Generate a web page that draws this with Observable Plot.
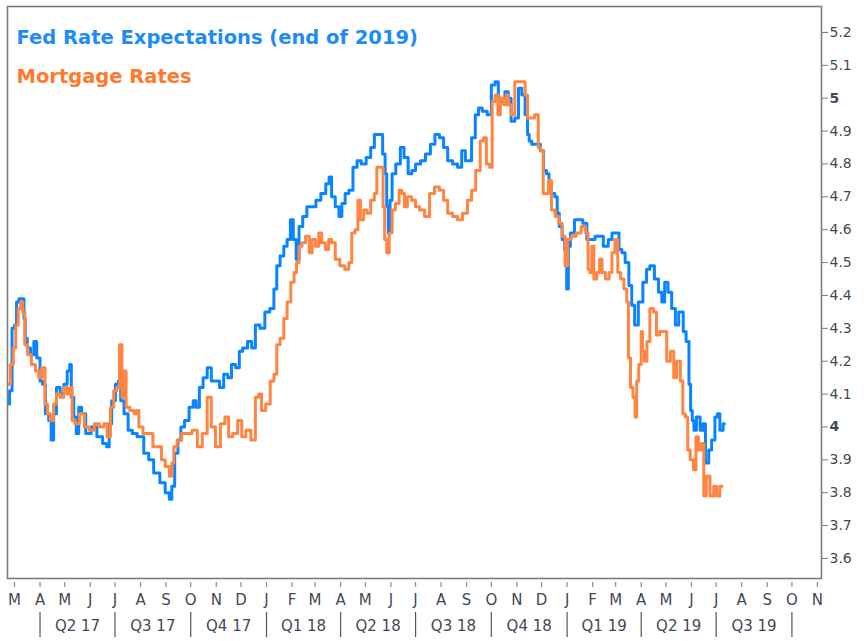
<!DOCTYPE html>
<html><head><meta charset="utf-8">
<script src="https://cdn.jsdelivr.net/npm/d3@7"></script>
<script src="https://cdn.jsdelivr.net/npm/@observablehq/plot@0.6"></script>
<style>body{margin:0;background:#fff} svg{display:block}</style>
</head><body><div id="chart"></div>
<script>
const seriesNames = ["Fed Rate Expectations (end of 2019)", "Mortgage Rates"];
const seriesColors = ["#0a84ff", "#ff8543"];
const legendColors = ["#1e8cf7", "#ff7a2b"];

const fedExpectations = [
["2017-02-22",4.07],["2017-02-24",4.11],["2017-02-28",4.30],["2017-03-02",4.31],["2017-03-05",4.38],["2017-03-08",4.39],["2017-03-12",4.39],["2017-03-13",4.33],["2017-03-15",4.27],["2017-03-18",4.24],["2017-03-23",4.22],["2017-03-26",4.26],["2017-03-30",4.21],
["2017-04-03",4.14],["2017-04-05",4.13],["2017-04-10",4.04],["2017-04-13",4.02],["2017-04-16",3.96],["2017-04-19",4.04],["2017-04-23",4.12],["2017-04-28",4.10],
["2017-05-02",4.13],["2017-05-06",4.17],["2017-05-08",4.19],["2017-05-10",4.09],["2017-05-14",4.03],["2017-05-16",3.98],["2017-05-20",4.06],["2017-05-23",4.04],["2017-05-30",3.98],
["2017-06-05",4.00],["2017-06-13",3.97],["2017-06-19",3.95],["2017-06-23",3.94],["2017-06-25",4.01],["2017-06-29",4.08],
["2017-07-04",4.13],["2017-07-06",4.14],["2017-07-10",4.08],["2017-07-14",4.04],["2017-07-20",3.99],["2017-07-24",3.98],
["2017-08-01",3.97],["2017-08-09",3.92],["2017-08-13",3.90],["2017-08-21",3.86],["2017-08-28",3.83],
["2017-09-03",3.80],["2017-09-07",3.78],["2017-09-09",3.82],["2017-09-14",3.92],["2017-09-17",3.96],["2017-09-21",4.00],["2017-09-26",4.02],
["2017-10-02",4.06],["2017-10-06",4.08],["2017-10-09",4.06],["2017-10-14",4.12],["2017-10-18",4.15],["2017-10-24",4.18],["2017-10-28",4.14],
["2017-11-02",4.14],["2017-11-08",4.12],["2017-11-12",4.16],["2017-11-18",4.15],["2017-11-21",4.19],["2017-11-28",4.18],["2017-11-30",4.23],
["2017-12-06",4.24],["2017-12-12",4.26],["2017-12-16",4.24],["2017-12-21",4.31],["2017-12-27",4.30],
["2018-01-02",4.35],["2018-01-08",4.36],["2018-01-12",4.42],["2018-01-15",4.49],["2018-01-20",4.52],["2018-01-24",4.55],["2018-01-28",4.57],
["2018-02-01",4.63],["2018-02-04",4.57],["2018-02-08",4.51],["2018-02-11",4.61],["2018-02-17",4.64],["2018-02-21",4.67],["2018-02-27",4.67],
["2018-03-05",4.69],["2018-03-11",4.71],["2018-03-17",4.74],["2018-03-19",4.76],["2018-03-23",4.70],["2018-03-28",4.67],
["2018-04-01",4.64],["2018-04-04",4.68],["2018-04-09",4.71],["2018-04-13",4.72],["2018-04-19",4.79],["2018-04-23",4.81],["2018-04-29",4.80],
["2018-05-05",4.82],["2018-05-10",4.85],["2018-05-14",4.89],["2018-05-20",4.89],["2018-05-24",4.83],["2018-05-26",4.77],["2018-05-28",4.67],["2018-05-30",4.59],
["2018-06-01",4.69],["2018-06-04",4.77],["2018-06-10",4.80],["2018-06-15",4.85],["2018-06-19",4.82],["2018-06-25",4.77],["2018-06-28",4.78],
["2018-07-04",4.80],["2018-07-10",4.81],["2018-07-16",4.83],["2018-07-22",4.86],["2018-07-27",4.89],
["2018-08-02",4.88],["2018-08-06",4.85],["2018-08-12",4.81],["2018-08-18",4.80],["2018-08-24",4.79],["2018-08-28",4.84],
["2018-09-02",4.81],["2018-09-05",4.81],["2018-09-09",4.88],["2018-09-14",4.95],["2018-09-17",4.97],["2018-09-23",4.96],["2018-09-29",4.95],
["2018-10-03",5.04],["2018-10-08",5.05],["2018-10-11",5.00],["2018-10-15",4.99],["2018-10-20",5.02],["2018-10-23",5.00],["2018-10-27",4.93],
["2018-11-01",4.94],["2018-11-05",5.03],["2018-11-09",5.01],["2018-11-13",4.95],["2018-11-15",4.89],["2018-11-17",4.87],["2018-11-21",4.86],["2018-11-27",4.86],
["2018-12-02",4.84],["2018-12-05",4.78],["2018-12-09",4.77],["2018-12-11",4.73],["2018-12-15",4.71],["2018-12-19",4.70],["2018-12-21",4.65],["2018-12-24",4.61],["2018-12-28",4.57],["2018-12-30",4.54],
["2019-01-02",4.42],["2019-01-03",4.55],["2019-01-07",4.59],["2019-01-13",4.63],["2019-01-17",4.63],["2019-01-23",4.62],["2019-01-27",4.57],
["2019-02-01",4.57],["2019-02-07",4.58],["2019-02-11",4.58],["2019-02-17",4.55],["2019-02-23",4.57],["2019-02-26",4.59],
["2019-03-03",4.59],["2019-03-07",4.54],["2019-03-10",4.53],["2019-03-15",4.50],["2019-03-19",4.43],["2019-03-22",4.37],["2019-03-26",4.31],["2019-03-31",4.38],
["2019-04-06",4.44],["2019-04-09",4.48],["2019-04-14",4.49],["2019-04-20",4.45],["2019-04-24",4.41],["2019-04-28",4.38],
["2019-05-01",4.44],["2019-05-06",4.41],["2019-05-10",4.36],["2019-05-15",4.31],["2019-05-18",4.35],["2019-05-21",4.35],["2019-05-23",4.29],["2019-05-28",4.26],["2019-05-30",4.13],
["2019-06-01",4.05],["2019-06-03",4.02],["2019-06-05",3.99],["2019-06-09",4.03],["2019-06-14",3.99],["2019-06-16",4.01],["2019-06-20",3.89],["2019-06-24",3.93],["2019-06-27",3.96],
["2019-07-02",4.03],["2019-07-03",4.04],["2019-07-08",3.99],["2019-07-11",4.01]
];

const mortgageRates = [
["2017-02-22",4.13],["2017-02-26",4.19],["2017-03-01",4.24],["2017-03-04",4.31],["2017-03-07",4.36],["2017-03-10",4.38],["2017-03-12",4.35],["2017-03-15",4.25],["2017-03-19",4.22],["2017-03-24",4.19],["2017-03-29",4.17],
["2017-04-01",4.15],["2017-04-05",4.18],["2017-04-09",4.07],["2017-04-11",4.04],["2017-04-16",4.02],["2017-04-19",4.07],["2017-04-23",4.10],["2017-04-28",4.09],
["2017-05-02",4.12],["2017-05-06",4.10],["2017-05-09",4.12],["2017-05-11",4.02],["2017-05-16",4.01],["2017-05-22",4.04],["2017-05-28",4.00],
["2017-06-03",3.99],["2017-06-09",4.01],["2017-06-15",4.00],["2017-06-20",4.01],["2017-06-23",3.97],["2017-06-28",4.06],
["2017-07-01",4.11],["2017-07-05",4.12],["2017-07-08",4.25],["2017-07-11",4.09],["2017-07-13",4.17],["2017-07-16",4.06],["2017-07-22",4.05],["2017-07-26",4.04],["2017-07-28",4.05],
["2017-08-01",4.00],["2017-08-07",3.98],["2017-08-13",3.98],["2017-08-19",3.94],["2017-08-25",3.94],["2017-08-28",3.90],
["2017-09-03",3.88],["2017-09-07",3.85],["2017-09-09",3.89],["2017-09-12",3.94],["2017-09-17",3.96],["2017-09-23",3.98],["2017-09-29",3.98],
["2017-10-06",3.99],["2017-10-12",3.94],["2017-10-18",3.98],["2017-10-24",4.09],["2017-10-28",4.00],
["2017-11-03",3.94],["2017-11-09",4.01],["2017-11-14",4.03],["2017-11-18",3.97],["2017-11-24",3.98],["2017-11-30",4.02],
["2017-12-04",3.97],["2017-12-10",3.99],["2017-12-16",3.96],["2017-12-21",4.09],["2017-12-24",4.10],["2017-12-28",4.05],
["2018-01-03",4.07],["2018-01-08",4.14],["2018-01-12",4.16],["2018-01-15",4.25],["2018-01-20",4.27],["2018-01-24",4.33],["2018-01-28",4.38],
["2018-02-02",4.44],["2018-02-05",4.47],["2018-02-08",4.50],["2018-02-11",4.55],["2018-02-15",4.56],["2018-02-20",4.58],["2018-02-24",4.53],["2018-02-27",4.57],
["2018-03-04",4.55],["2018-03-07",4.59],["2018-03-11",4.56],["2018-03-16",4.54],["2018-03-19",4.57],["2018-03-23",4.56],["2018-03-28",4.51],
["2018-04-03",4.49],["2018-04-09",4.48],["2018-04-13",4.50],["2018-04-16",4.59],["2018-04-21",4.60],["2018-04-23",4.69],["2018-04-27",4.63],
["2018-05-01",4.66],["2018-05-05",4.65],["2018-05-10",4.69],["2018-05-14",4.71],["2018-05-16",4.79],["2018-05-22",4.79],["2018-05-23",4.67],["2018-05-26",4.57],["2018-05-28",4.53],
["2018-06-01",4.59],["2018-06-04",4.66],["2018-06-09",4.68],["2018-06-13",4.72],["2018-06-16",4.71],["2018-06-19",4.67],["2018-06-23",4.70],["2018-06-29",4.69],
["2018-07-03",4.67],["2018-07-09",4.66],["2018-07-15",4.64],["2018-07-21",4.71],["2018-07-27",4.73],
["2018-08-02",4.72],["2018-08-06",4.69],["2018-08-12",4.65],["2018-08-18",4.64],["2018-08-24",4.63],["2018-08-30",4.65],
["2018-09-05",4.69],["2018-09-09",4.72],["2018-09-15",4.78],["2018-09-20",4.87],["2018-09-23",4.88],["2018-09-27",4.80],
["2018-10-01",4.79],["2018-10-03",4.99],["2018-10-08",5.01],["2018-10-10",4.95],["2018-10-14",5.00],["2018-10-18",4.98],["2018-10-20",5.01],["2018-10-23",4.98],["2018-10-27",4.95],
["2018-11-01",5.05],["2018-11-09",5.05],["2018-11-13",5.01],["2018-11-15",4.94],["2018-11-19",4.94],["2018-11-26",4.95],["2018-11-28",4.85],
["2018-12-02",4.84],["2018-12-04",4.71],["2018-12-08",4.71],["2018-12-11",4.75],["2018-12-15",4.66],["2018-12-20",4.64],["2018-12-24",4.62],["2018-12-28",4.58],["2018-12-31",4.49],
["2019-01-03",4.57],["2019-01-09",4.58],["2019-01-15",4.59],["2019-01-21",4.61],["2019-01-26",4.59],["2019-01-27",4.48],["2019-01-30",4.47],
["2019-02-01",4.55],["2019-02-04",4.45],["2019-02-08",4.47],["2019-02-11",4.51],["2019-02-14",4.47],["2019-02-19",4.45],["2019-02-23",4.47],["2019-02-26",4.53],
["2019-03-02",4.57],["2019-03-05",4.47],["2019-03-09",4.45],["2019-03-13",4.42],["2019-03-16",4.38],["2019-03-17",4.21],["2019-03-21",4.12],["2019-03-23",4.09],["2019-03-26",4.03],["2019-03-27",4.14],["2019-03-31",4.19],
["2019-04-02",4.29],["2019-04-03",4.23],["2019-04-07",4.20],["2019-04-09",4.26],["2019-04-14",4.36],["2019-04-18",4.35],["2019-04-21",4.28],["2019-04-26",4.29],["2019-04-30",4.29],
["2019-05-04",4.20],["2019-05-09",4.23],["2019-05-12",4.15],["2019-05-16",4.20],["2019-05-21",4.14],["2019-05-22",4.04],["2019-05-27",4.03],["2019-05-28",3.93],
["2019-06-02",3.90],["2019-06-05",3.87],["2019-06-08",3.97],["2019-06-11",3.93],["2019-06-15",3.95],["2019-06-17",3.79],["2019-06-21",3.85],["2019-06-26",3.79],["2019-06-30",3.82],
["2019-07-03",3.79],["2019-07-08",3.82]
];

const yTicks = [3.6,3.7,3.8,3.9,4,4.1,4.2,4.3,4.4,4.5,4.6,4.7,4.8,4.9,5,5.1,5.2];
const boldTicks = [4, 5];
const monthLetters = ["J","F","M","A","M","J","J","A","S","O","N","D"];
const quarterLabels = ["Q2 17","Q3 17","Q4 17","Q1 18","Q2 18","Q3 18","Q4 18","Q1 19","Q2 19","Q3 19"];

const parse = d3.utcParse("%Y-%m-%d");
const toRows = (arr, name) => arr.map(([d, v]) => ({date: parse(d), value: v, series: name}));
const fedRows = toRows(fedExpectations, seriesNames[0]);
const mortRows = toRows(mortgageRates, seriesNames[1]);

const monthStarts = d3.utcMonth.range(new Date(Date.UTC(2017, 2, 1)), new Date(Date.UTC(2019, 10, 2)));
const firstQuarter = new Date(Date.UTC(2017, 3, 1));
const quarterBounds = d3.range(quarterLabels.length + 1).map(i => d3.utcMonth.offset(firstQuarter, 3 * i));
const quarterRows = quarterLabels.map((q, i) => ({
  label: q,
  mid: new Date((+quarterBounds[i] + +quarterBounds[i + 1]) / 2)
}));

const FONT = "'DejaVu Sans', sans-serif";
const axisColor = "#3f4a56";
const frameH = 641 - 6 - 63;

const chart = Plot.plot({
  width: 864, height: 641,
  marginLeft: 7, marginRight: 43, marginTop: 6, marginBottom: 63,
  style: {fontFamily: FONT, background: "#fff", overflow: "visible"},
  x: {type: "utc", domain: [new Date(Date.UTC(2017, 1, 20, 12)), new Date(Date.UTC(2019, 10, 5, 22))], axis: null},
  y: {domain: [3.539, 5.279]},
  marks: [
    Plot.line(fedRows, {x: "date", y: "value", stroke: seriesColors[0], strokeWidth: 3, curve: "step"}),
    Plot.line(mortRows, {x: "date", y: "value", stroke: seriesColors[1], strokeWidth: 3, curve: "step"}),
    Plot.frame({stroke: "#7d7d7d", strokeWidth: 1.6}),
    Plot.axisY({anchor: "right", ticks: yTicks.filter(t => !boldTicks.includes(t)), tickSize: 6, tickPadding: 2,
      tickFormat: d => String(d), fontSize: 14, fill: axisColor, stroke: "#7d7d7d", label: null}),
    Plot.axisY({anchor: "right", ticks: boldTicks, tickSize: 6, tickPadding: 2,
      tickFormat: d => String(d), fontSize: 14, fontWeight: "bold", fill: axisColor, stroke: "#7d7d7d", label: null}),
    Plot.ruleX(monthStarts, {x: d => d, stroke: "#8a8a8a", strokeWidth: 1.2, insetTop: frameH - 5, dy: 9}),
    Plot.text(monthStarts, {x: d => d, text: d => monthLetters[d.getUTCMonth()], frameAnchor: "bottom",
      lineAnchor: "middle", dy: 22, fontSize: 15, fill: axisColor}),
    Plot.ruleX(quarterBounds, {x: d => d, stroke: "#555", strokeWidth: 1.2, insetTop: frameH - 25, dy: 59}),
    Plot.text(quarterRows, {x: "mid", text: "label", frameAnchor: "bottom", lineAnchor: "middle", dy: 48,
      fontSize: 15, fill: axisColor}),
    Plot.text([seriesNames[0]], {text: d => d, frameAnchor: "top-left", dx: 9, dy: 31, lineAnchor: "middle",
      textAnchor: "start", fontSize: 19.5, fontWeight: "bold", fill: legendColors[0]}),
    Plot.text([seriesNames[1]], {text: d => d, frameAnchor: "top-left", dx: 9, dy: 70, lineAnchor: "middle",
      textAnchor: "start", fontSize: 19.5, fontWeight: "bold", fill: legendColors[1]})
  ]
});
document.getElementById("chart").append(chart);
</script>
</body></html>
